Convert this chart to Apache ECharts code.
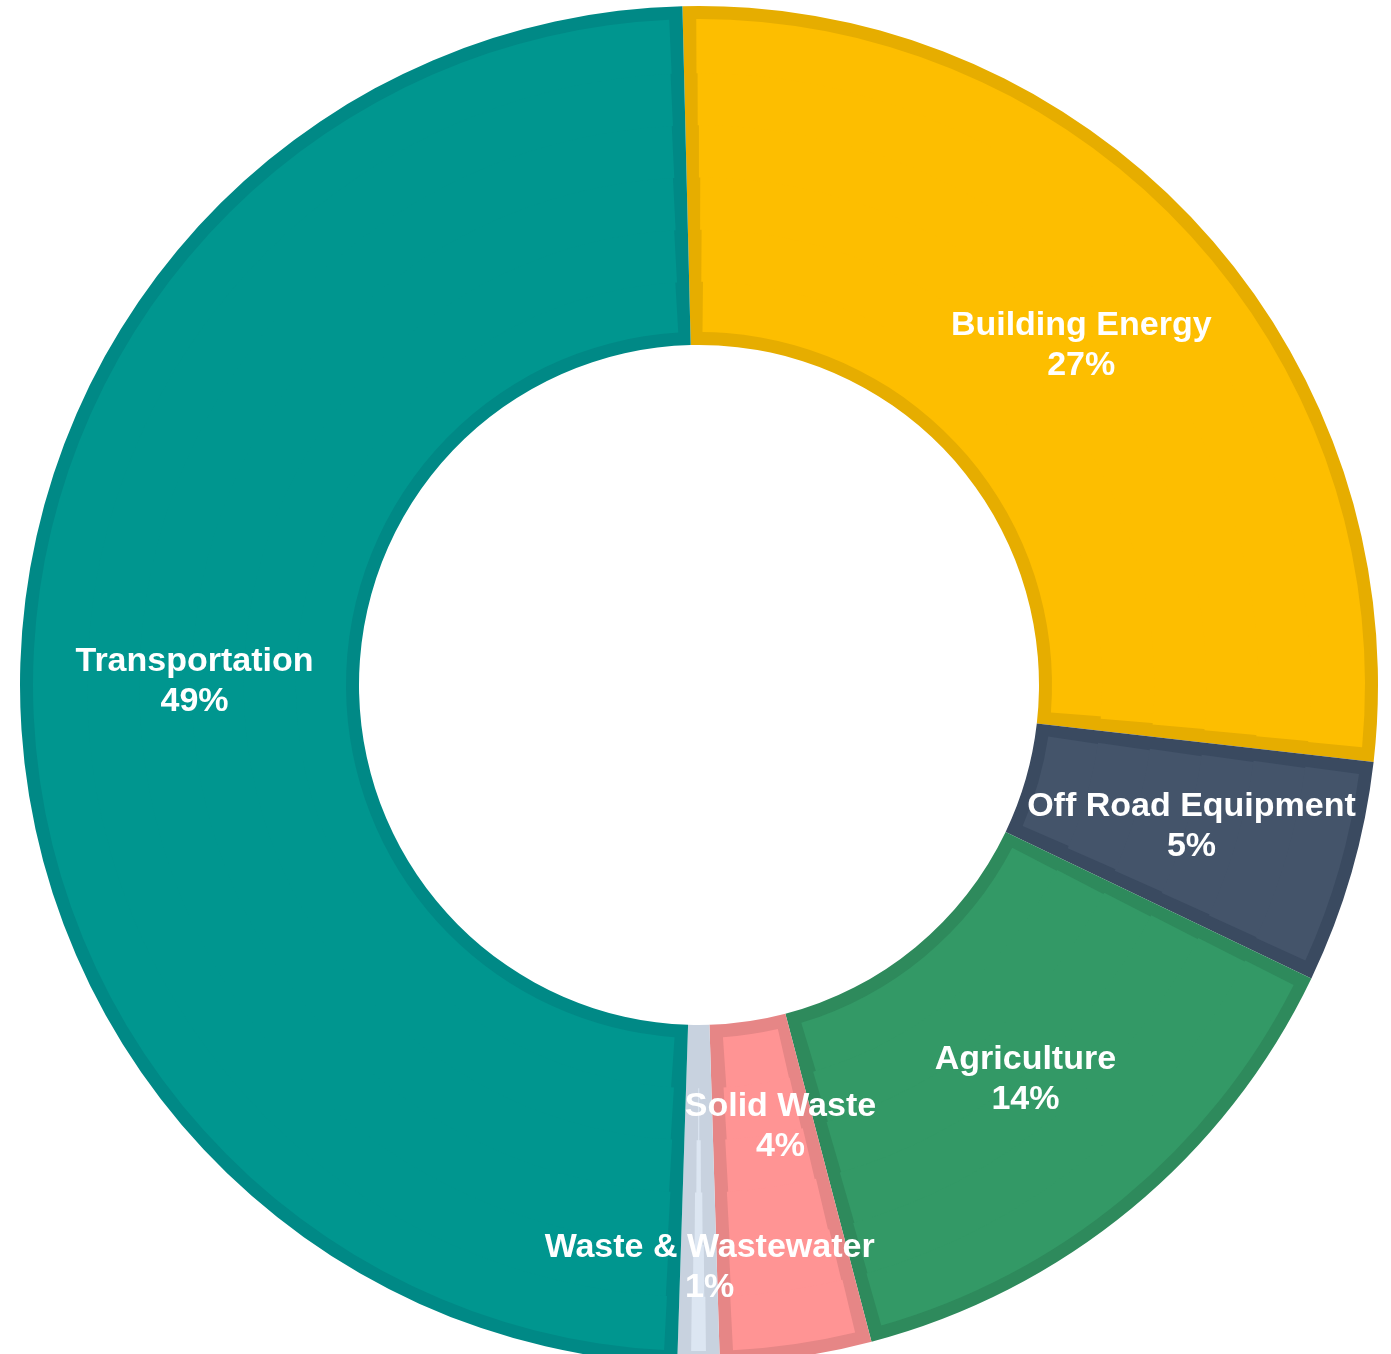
<!DOCTYPE html>
<html>
<head>
<meta charset="utf-8">
<script src="https://cdn.jsdelivr.net/npm/echarts@6/dist/echarts.min.js"></script>
<style>
html,body{margin:0;padding:0;background:#ffffff;}
#chart{width:1391px;height:1354px;}
</style>
</head>
<body>
<div id="chart"></div>
<script>
// ---- data ----
var categories = ['Building Energy', 'Off Road Equipment', 'Agriculture', 'Solid Waste', 'Waste & Wastewater', 'Transportation'];
var shares = [27.2, 5.3, 13.8, 3.6, 1.0, 49.1];

// ---- styling ----
var fillColors = ['#FDBE00', '#44546A', '#339966', '#FF9494', '#DCE6F2', '#00968F'];
var edgeColors = ['#E6AD00', '#3A4A60', '#2E8A5C', '#E68686', '#C8D2DF', '#008986'];
var CX = 699, CY = 685, R0 = 340, R1 = 679, BW = 13;
var START = 91.4;
var labelShift = {
  0: { dx: 4, dy: 6 },
  3: { dx: 8, dy: -66 },
  4: { dx: 11, dy: 70 },
  5: { dx: 8, dy: -1 }
};

function items(colors) {
  return categories.map(function (c, i) {
    return { name: c, value: shares[i], itemStyle: { color: colors[i] } };
  });
}

var series = [];
// darker base ring (shows as the inner border of each slice)
series.push({
  type: 'pie', center: [CX, CY], radius: [R0, R1], startAngle: START, clockwise: true,
  data: items(edgeColors), label: { show: false }, labelLine: { show: false },
  itemStyle: { borderWidth: 0 }, silent: true, z: 1
});
// lighter fill, split into concentric bands so the side border stays ~BW px wide
var inner = R0 + BW, outer = R1 - BW, nb = 6, step = (outer - inner) / nb;
for (var k = 0; k < nb; k++) {
  var a = inner + k * step - (k > 0 ? 2 : 0);
  var b = inner + (k + 1) * step;
  var mid = inner + (k + 0.5) * step;
  series.push({
    type: 'pie', center: [CX, CY], radius: [a, b], startAngle: START, clockwise: true,
    padAngle: 2 * BW / mid * 180 / Math.PI,
    data: items(fillColors), label: { show: false }, labelLine: { show: false },
    itemStyle: { borderWidth: 0 }, silent: true, z: 2 + k
  });
}
// label layer
series.push({
  type: 'pie', center: [CX, CY], radius: [R0, R1], startAngle: START, clockwise: true,
  percentPrecision: 0,
  data: items(categories.map(function () { return 'rgba(0,0,0,0)'; })),
  itemStyle: { borderWidth: 0 },
  label: {
    show: true, position: 'inside', formatter: '{b}\n{d}%',
    color: '#ffffff', fontWeight: 'bold', fontSize: 34, lineHeight: 40,
    fontFamily: '"Liberation Sans", Arial, sans-serif', textBorderWidth: 0
  },
  labelLine: { show: false },
  labelLayout: function (p) {
    var s = labelShift[p.dataIndex];
    return s ? { dx: s.dx, dy: s.dy } : {};
  },
  silent: true, z: 20
});

var chart = echarts.init(document.getElementById('chart'), null, { renderer: 'canvas' });
chart.setOption({
  animation: false,
  backgroundColor: '#ffffff',
  tooltip: { show: false },
  legend: { show: false },
  series: series
});
</script>
</body>
</html>
